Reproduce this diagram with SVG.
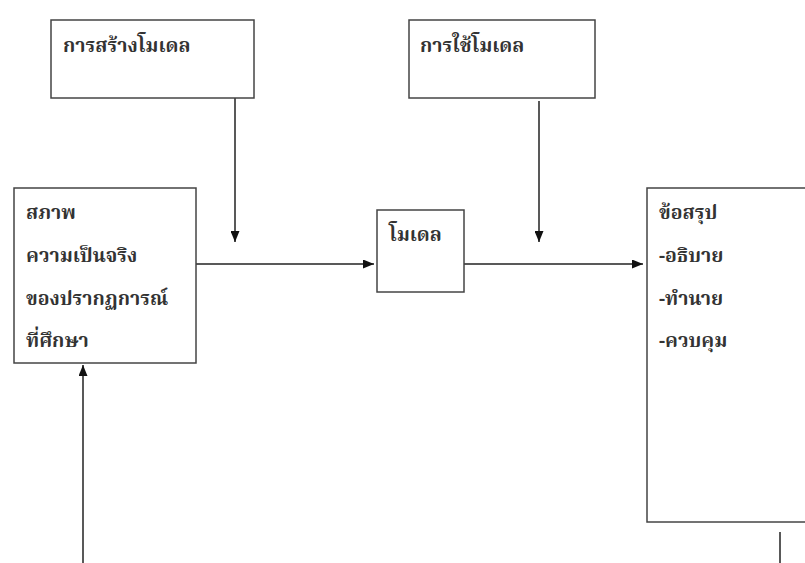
<svg xmlns="http://www.w3.org/2000/svg" width="805" height="563" viewBox="0 0 805 563">
<defs>
<marker id="ah" viewBox="0 0 10 10" refX="10" refY="5" markerWidth="11" markerHeight="9" markerUnits="userSpaceOnUse" orient="auto" preserveAspectRatio="none">
<path d="M0,0 L10,5 L0,10 z" fill="#111"/>
</marker>
</defs>
<style>
.box{fill:#fff;stroke:#444;stroke-width:1.5}
.ln{stroke:#222;stroke-width:1.5;fill:none}
.t{font-family:"Noto Serif Thai","Noto Sans Thai","Liberation Serif","DejaVu Sans",serif;font-size:19.5px;font-weight:bold;fill:#333}
</style>
<rect width="805" height="563" fill="#fff"/>
<g id="connectors">
<line class="ln" x1="235" y1="98" x2="235" y2="242" marker-end="url(#ah)"/>
<line class="ln" x1="539" y1="101" x2="539" y2="242" marker-end="url(#ah)"/>
<line class="ln" x1="196" y1="264" x2="374" y2="264" marker-end="url(#ah)"/>
<line class="ln" x1="464" y1="264" x2="643" y2="264" marker-end="url(#ah)"/>
<line class="ln" x1="83" y1="563" x2="83" y2="365" marker-end="url(#ah)"/>
<line class="ln" x1="780" y1="532" x2="780" y2="563"/>
</g>
<g id="n-build">
<rect class="box" x="51" y="20" width="203" height="78"/>
<text class="t" x="63" y="52">การสร้างโมเดล</text>
</g>
<g id="n-use">
<rect class="box" x="409" y="20" width="186" height="78"/>
<text class="t" x="420" y="52">การใช้โมเดล</text>
</g>
<g id="n-reality">
<rect class="box" x="14" y="188" width="182" height="175"/>
<text class="t" x="26" y="219">สภาพ</text>
<text class="t" x="26" y="262">ความเป็นจริง</text>
<text class="t" x="26" y="305">ของปรากฏการณ์</text>
<text class="t" x="26" y="347">ที่ศึกษา</text>
</g>
<g id="n-model">
<rect class="box" x="377" y="210" width="87" height="82"/>
<text class="t" x="389" y="241">โมเดล</text>
</g>
<g id="n-conclusion">
<rect class="box" x="647" y="188" width="170" height="334"/>
<text class="t" x="659" y="219">ข้อสรุป</text>
<text class="t" x="659" y="262">-อธิบาย</text>
<text class="t" x="659" y="305">-ทำนาย</text>
<text class="t" x="659" y="347">-ควบคุม</text>
</g>
</svg>
